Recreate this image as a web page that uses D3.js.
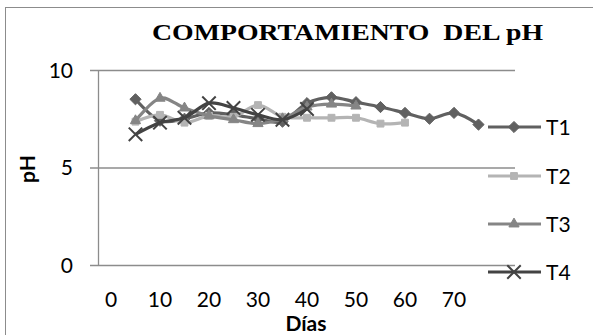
<!DOCTYPE html>
<html>
<head>
<meta charset="utf-8">
<script src="https://cdn.jsdelivr.net/npm/d3@7"></script>
<style>
  html, body { margin: 0; padding: 0; background: #fff; }
  svg { display: block; }
</style>
</head>
<body>
<svg id="chart" width="593" height="335"></svg>
<script>
// pH readings per treatment, sampled every 5 days
const days = [5, 10, 15, 20, 25, 30, 35, 40, 45, 50, 55, 60, 65, 70, 75];
const t1 = [8.5, 7.4, 7.5, 7.8, 7.7, 7.5, 7.35, 8.3, 8.6, 8.35, 8.1, 7.8, 7.5, 7.8, 7.2];
const t2 = [7.35, 7.7, 7.3, 7.65, 7.6, 8.2, 7.6, 7.55, 7.55, 7.55, 7.25, 7.3];
const t3 = [7.4, 8.55, 8.05, 7.65, 7.45, 7.25, 7.5, 8.1, 8.25, 8.15];
const t4 = [6.7, 7.3, 7.55, 8.3, 8.05, 7.7, 7.45, 8.0];
const seriesNames = ["T1", "T2", "T3", "T4"];
const xTicks = [0, 10, 20, 30, 40, 50, 60, 70];
const yTicks = [0, 5, 10];

const seriesValues = [t1, t2, t3, t4];
const colors = ["#606060", "#b4b4b4", "#858585", "#434343"];
const symbols = [d3.symbolDiamond2, d3.symbolSquare2, d3.symbolTriangle2, d3.symbolX];
const symbolSizes = [80, 60, 75, 120];

const svg = d3.select("#chart");

// outer chart frame
svg.append("rect")
  .attr("x", 5.5).attr("y", 7.5)
  .attr("width", 700).attr("height", 400)
  .attr("fill", "none").attr("stroke", "#8c8c8c").attr("stroke-width", 1);

const plotLeft = 98, plotRight = 515, plotTop = 70, plotBottom = 265;

const x = d3.scaleLinear().domain([-2.65, 82.45]).range([plotLeft, plotRight]);
const y = d3.scaleLinear().domain([0, 10]).range([plotBottom, plotTop]);

// horizontal gridlines
svg.append("g").selectAll("line").data(yTicks).join("line")
  .attr("x1", plotLeft - 8).attr("x2", plotRight)
  .attr("y1", d => y(d) + 0.5).attr("y2", d => y(d) + 0.5)
  .attr("stroke", "#8c8c8c").attr("stroke-width", 1.3);

// vertical axis line
svg.append("line")
  .attr("x1", plotLeft + 0.5).attr("x2", plotLeft + 0.5)
  .attr("y1", plotTop).attr("y2", plotBottom + 1)
  .attr("stroke", "#8c8c8c").attr("stroke-width", 1.3);

const font = "Lato, 'Open Sans', sans-serif";

// y tick labels
svg.append("g").selectAll("text").data(yTicks).join("text")
  .attr("x", 73).attr("y", d => y(d))
  .attr("dy", "0.36em")
  .attr("text-anchor", "end")
  .attr("font-family", font).attr("font-size", 21).attr("fill", "#000")
  .text(d => d);

// x tick labels
svg.append("g").selectAll("text").data(xTicks).join("text")
  .attr("x", d => x(d)).attr("y", 307)
  .attr("text-anchor", "middle")
  .attr("font-family", font).attr("font-size", 21).attr("fill", "#000")
  .text(d => d);

// axis titles
svg.append("text")
  .attr("x", 306).attr("y", 331)
  .attr("text-anchor", "middle")
  .attr("font-family", font).attr("font-size", 21).attr("font-weight", "bold")
  .text("Días");

svg.append("text")
  .attr("transform", "translate(35,169) rotate(-90)")
  .attr("text-anchor", "middle")
  .attr("font-family", font).attr("font-size", 21).attr("font-weight", "bold")
  .text("pH");

// chart title
svg.append("text")
  .attr("x", 152).attr("y", 40)
  .attr("font-family", "'Liberation Serif', 'Times New Roman', serif")
  .attr("font-size", 23).attr("font-weight", "bold")
  .attr("textLength", 391).attr("lengthAdjust", "spacingAndGlyphs")
  .style("white-space", "pre")
  .text("COMPORTAMIENTO  DEL pH");

const line = d3.line()
  .x(d => x(d[0])).y(d => y(d[1]))
  .curve(d3.curveCardinal.tension(0));

seriesValues.forEach((vals, i) => {
  const pts = vals.map((v, j) => [days[j], v]);
  const g = svg.append("g");
  g.append("path")
    .attr("d", line(pts))
    .attr("fill", "none").attr("stroke", colors[i]).attr("stroke-width", 3.2);
  const sym = d3.symbol().type(symbols[i]).size(symbolSizes[i]);
  g.selectAll("path.m").data(pts).join("path")
    .attr("class", "m")
    .attr("transform", d => `translate(${x(d[0])},${y(d[1])})`)
    .attr("d", sym())
    .attr("fill", i === 3 ? "none" : colors[i])
    .attr("stroke", colors[i])
    .attr("stroke-width", i === 3 ? 2 : 1);
});

// legend
const legendY = [127, 176, 224, 272];
const lg = svg.append("g");
seriesNames.forEach((name, i) => {
  const yy = legendY[i];
  lg.append("line")
    .attr("x1", 488).attr("x2", 541).attr("y1", yy).attr("y2", yy)
    .attr("stroke", colors[i]).attr("stroke-width", 3.2);
  lg.append("path")
    .attr("transform", `translate(514,${yy})`)
    .attr("d", d3.symbol().type(symbols[i]).size(symbolSizes[i])())
    .attr("fill", i === 3 ? "none" : colors[i])
    .attr("stroke", colors[i])
    .attr("stroke-width", i === 3 ? 2 : 1);
  lg.append("text")
    .attr("x", 546).attr("y", yy).attr("dy", "0.36em")
    .attr("font-family", font).attr("font-size", 21).attr("fill", "#000")
    .text(name);
});
</script>
</body>
</html>
